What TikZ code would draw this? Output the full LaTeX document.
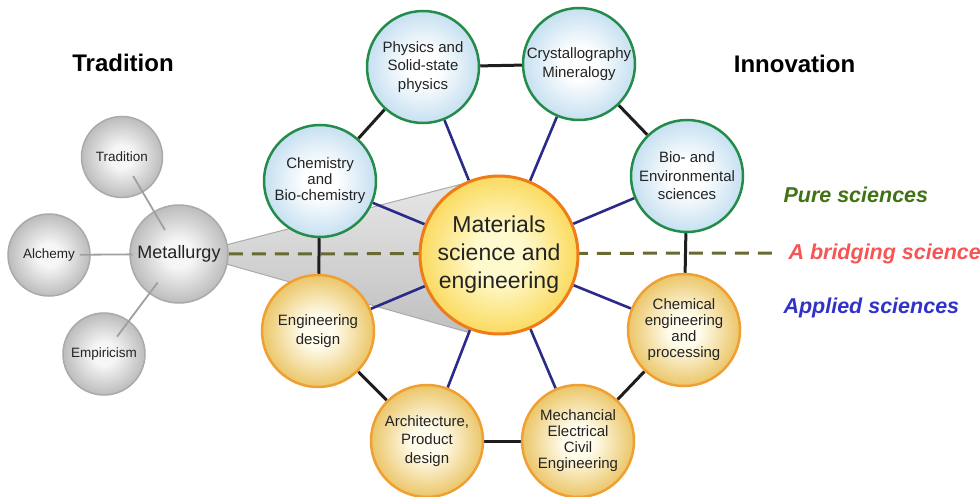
\documentclass[tikz,border=0pt]{standalone}
\usepackage{fontspec}
\setmainfont{Liberation Sans}
\usetikzlibrary{backgrounds}
\definecolor{txt}{RGB}{35,35,35}
\definecolor{bluein}{RGB}{255,255,255}
\definecolor{blueout}{RGB}{198,224,241}
\definecolor{puregreen}{RGB}{35,140,75}
\definecolor{yelin}{RGB}{255,252,236}
\definecolor{yelout}{RGB}{235,198,105}
\definecolor{yelborder}{RGB}{240,160,50}
\definecolor{cin}{RGB}{255,250,205}
\definecolor{cout}{RGB}{250,218,95}
\definecolor{cborder}{RGB}{238,125,25}
\definecolor{grin}{RGB}{246,246,246}
\definecolor{grout}{RGB}{188,188,188}
\definecolor{grborder}{RGB}{170,170,170}
\definecolor{spokeblue}{RGB}{42,42,135}
\definecolor{ringblack}{RGB}{30,30,30}
\definecolor{olive}{RGB}{105,105,50}
\definecolor{pureTxt}{RGB}{65,115,20}
\definecolor{bridgeTxt}{RGB}{245,85,85}
\definecolor{appliedTxt}{RGB}{50,50,200}
\definecolor{conetop}{RGB}{232,232,232}
\definecolor{conebot}{RGB}{192,192,192}
\pgfdeclareradialshading{blueball}{\pgfpoint{0bp}{0bp}}{color(0bp)=(bluein); color(7bp)=(bluein); color(25bp)=(blueout); color(50bp)=(blueout)}
\pgfdeclareradialshading{yelball}{\pgfpoint{0bp}{0bp}}{color(0bp)=(yelin); color(7bp)=(yelin); color(25bp)=(yelout); color(50bp)=(yelout)}
\pgfdeclareradialshading{cball}{\pgfpoint{0bp}{0bp}}{color(0bp)=(cin); color(8bp)=(cin); color(25bp)=(cout); color(50bp)=(cout)}
\pgfdeclareradialshading{grball}{\pgfpoint{0bp}{0bp}}{color(0bp)=(grin); color(7bp)=(grin); color(25bp)=(grout); color(50bp)=(grout)}
\begin{document}
\begin{tikzpicture}[x=1pt,y=-1pt,
  ball/.style={circle, inner sep=0pt, align=center, text=txt},
  pureball/.style={ball, draw=puregreen, line width=2.5pt, shading=blueball, minimum size=112pt, font=\fontsize{15}{18.5}\selectfont},
  appball/.style={ball, draw=yelborder, line width=2.5pt, shading=yelball, minimum size=112pt, font=\fontsize{15}{18.5}\selectfont},
  greyball/.style={ball, draw=grborder, line width=1.5pt, shading=grball, minimum size=81pt, font=\fontsize{13.5}{16}\selectfont},
  centerball/.style={ball, draw=cborder, line width=3pt, shading=cball, minimum size=158pt, font=\fontsize{23}{28}\selectfont},
  ring/.style={draw=ringblack, line width=3pt},
  spoke/.style={draw=spokeblue, line width=2.6pt},
  greyline/.style={draw=grout!85!black, line width=1.8pt},
  bridge/.style={draw=olive, line width=3pt, dash pattern=on 14pt off 9pt},
  header/.style={font=\fontsize{24}{28}\selectfont\bfseries, text=black, anchor=base},
  sidelabel/.style={font=\fontsize{21.5}{25}\selectfont\bfseries\itshape, anchor=base west}
]
\useasboundingbox (0,0) rectangle (980,497);

% headers
\node[header] (htrad) at (123,72) {Tradition};
\node[header] (hinno) at (794.5,73) {Innovation};

% grey circles
\node[greyball] (trad) at (122,157) {Tradition};
\node[greyball, minimum size=82pt] (alch) at (49,255) {Alchemy};
\node[greyball, minimum size=82pt] (emp) at (104,354) {Empiricism};
\node[greyball, minimum size=98pt, font=\fontsize{18}{21}\selectfont] (metal) at (179,254) {Metallurgy};

% centre
\node[centerball] (mse) at (499,255) {Materials\\science and\\engineering};

% pure sciences
\node[pureball] (phys) at (423,67) {Physics and\\Solid-state\\physics};
\node[pureball] (cryst) at (579,64) {Crystallography\\Mineralogy};
\node[pureball] (bio) at (687,176) {Bio- and\\Environmental\\sciences};
\node[pureball, font=\fontsize{15}{16}\selectfont] (chem) at (320,181) {Chemistry\\and\\Bio-chemistry};

% applied sciences
\node[appball] (engd) at (318,331) {Engineering\\design};
\node[appball, font=\fontsize{15}{16}\selectfont] (chemeng) at (684,330) {Chemical\\engineering\\and\\processing};
\node[appball] (arch) at (427,441) {Architecture,\\Product\\design};
\node[appball, font=\fontsize{15}{16}\selectfont] (mech) at (578,441) {Mechancial\\Electrical\\Civil\\Engineering};

\coordinate (dashend) at (775,253);

\begin{scope}[on background layer]
  % cone
  \path[draw=grborder, line width=1pt, top color=conetop, bottom color=conebot]
    (226,245) -- (493,176) -- (499,255) -- (467,332) -- (226,264) -- cycle;
  % ring
  \draw[ring] (phys) -- (cryst);
  \draw[ring] (cryst) -- (bio);
  \draw[ring] (bio) -- (chemeng);
  \draw[ring] (chemeng) -- (mech);
  \draw[ring] (mech) -- (arch);
  \draw[ring] (arch) -- (engd);
  \draw[ring] (engd) -- (chem);
  \draw[ring] (chem) -- (phys);
  % spokes
  \foreach \n in {phys,cryst,bio,chemeng,mech,arch,engd,chem}
    \draw[spoke] (mse) -- (\n);
  % bridging dashed line
  \draw[bridge] (metal.east) -- (dashend);
\end{scope}

% grey connectors
\draw[greyline, shorten <=-19pt, shorten >=-22pt] (trad) -- (metal);
\draw[greyline, shorten <=-11pt, shorten >=-3pt] (alch) -- (metal);
\draw[greyline, shorten <=-20pt, shorten >=-14pt] (emp) -- (metal);

% side labels
\node[sidelabel, text=pureTxt] (lpure) at (780,203) {Pure sciences};
\node[sidelabel, text=bridgeTxt] (lbridge) at (785,259) {A bridging science};
\node[sidelabel, text=appliedTxt] (lapplied) at (780,313) {Applied sciences};
\end{tikzpicture}
\end{document}
